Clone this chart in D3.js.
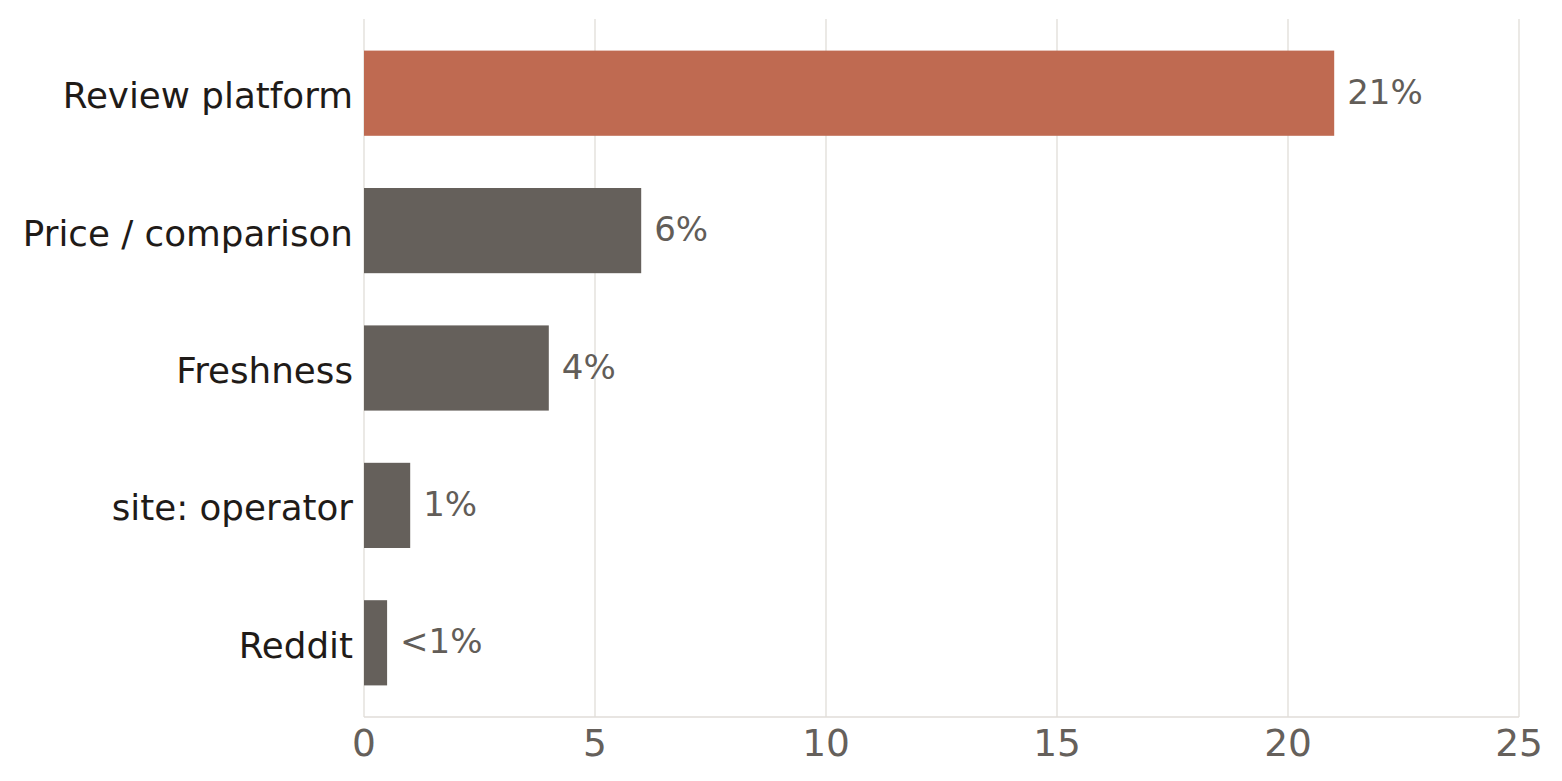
<!DOCTYPE html>
<html>
<head>
<meta charset="utf-8">
<script src="https://cdn.jsdelivr.net/npm/d3@7"></script>
<style>
  html, body { margin: 0; padding: 0; background: #fff; }
  svg { display: block; font-family: "DejaVu Sans", sans-serif; }
</style>
</head>
<body>
<div id="chart"></div>
<script>
// data
const categories = ["Review platform", "Price / comparison", "Freshness", "site: operator", "Reddit"];
const shares = [21, 6, 4, 1, 0.5];
const valueLabels = ["21%", "6%", "4%", "1%", "<1%"];
const xTicks = [0, 5, 10, 15, 20, 25];

const width = 1562, height = 781;
const margin = {top: 19, right: 43, bottom: 64, left: 364};

const svg = d3.select("#chart").append("svg")
    .attr("width", width)
    .attr("height", height);

const x = d3.scaleLinear().domain([0, 25]).range([margin.left, width - margin.right]);
const y = d3.scaleBand().domain(categories)
    .range([margin.top, height - margin.bottom])
    .paddingInner(0.38)
    .paddingOuter(0.23);

// grid
svg.append("g").selectAll("line")
    .data(xTicks)
    .join("line")
    .attr("x1", d => x(d)).attr("x2", d => x(d))
    .attr("y1", margin.top).attr("y2", height - margin.bottom)
    .attr("stroke", "#e0ddd8")
    .attr("stroke-width", 1.3);

// bottom axis line
svg.append("line")
    .attr("x1", x(0)).attr("x2", x(25))
    .attr("y1", height - margin.bottom).attr("y2", height - margin.bottom)
    .attr("stroke", "#e0ddd8")
    .attr("stroke-width", 1.6);

// bars
svg.append("g").selectAll("rect")
    .data(categories)
    .join("rect")
    .attr("x", x(0))
    .attr("y", d => y(d))
    .attr("width", (d, i) => x(shares[i]) - x(0))
    .attr("height", y.bandwidth())
    .attr("fill", (d, i) => i === 0 ? "#bf6a51" : "#65605b");

// value labels
svg.append("g").selectAll("text")
    .data(categories)
    .join("text")
    .attr("x", (d, i) => x(shares[i]) + 13)
    .attr("y", d => y(d) + y.bandwidth() / 2)
    .attr("dy", "0.31em")
    .attr("font-size", "34px")
    .attr("fill", "#625d58")
    .text((d, i) => valueLabels[i]);

// category labels
svg.append("g").selectAll("text")
    .data(categories)
    .join("text")
    .attr("x", x(0) - 11)
    .attr("y", d => y(d) + y.bandwidth() / 2)
    .attr("dy", "0.42em")
    .attr("text-anchor", "end")
    .attr("font-size", "35.7px")
    .attr("fill", "#1f1b18")
    .text(d => d);

// x tick labels
svg.append("g").selectAll("text")
    .data(xTicks)
    .join("text")
    .attr("x", d => x(d))
    .attr("y", 756)
    .attr("text-anchor", "middle")
    .attr("font-size", "37.5px")
    .attr("fill", "#65605b")
    .text(d => d);
</script>
</body>
</html>
